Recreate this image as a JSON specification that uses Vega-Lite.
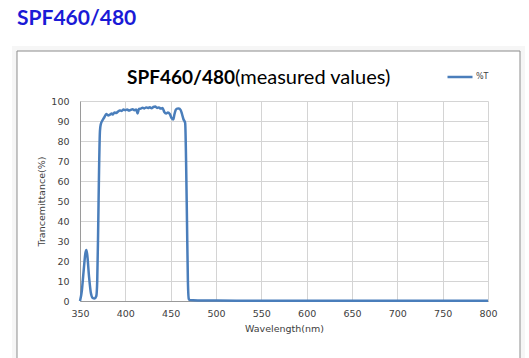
{
  "$schema": "https://vega.github.io/schema/vega-lite/v6.json",
  "width": 408,
  "height": 200,
  "autosize": {"type": "none"},
  "padding": {"left": 80, "top": 101, "right": 41, "bottom": 57},
  "background": "white",
  "title": {
    "text": "SPF460/480",
    "anchor": "start",
    "frame": "group",
    "dx": -63,
    "offset": 17,
    "font": "Lato",
    "fontSize": 21,
    "fontWeight": "bold",
    "color": "#1a1ad6"
  },
  "config": {
    "view": {"stroke": null},
    "axis": {
      "labelFont": "DejaVu Sans",
      "labelFontSize": 9.5,
      "labelColor": "#404040",
      "labelOverlap": false,
      "titleFont": "DejaVu Sans",
      "titleFontSize": 9.5,
      "titleFontWeight": "normal",
      "titleColor": "#404040",
      "gridColor": "#d4d4d4",
      "gridOpacity": 1,
      "domainColor": "#9a9a9a",
      "ticks": false
    }
  },
  "layer": [
    {
      "data": {
        "values": [
          {"wl": 350, "t": 0}, {"wl": 352, "t": 5}, {"wl": 354, "t": 15}, {"wl": 356, "t": 24},
          {"wl": 357, "t": 25.5}, {"wl": 358, "t": 23}, {"wl": 360, "t": 12}, {"wl": 362, "t": 4},
          {"wl": 364, "t": 1.5}, {"wl": 366, "t": 1.2}, {"wl": 368, "t": 2.5}, {"wl": 369, "t": 10},
          {"wl": 370, "t": 35}, {"wl": 371, "t": 65}, {"wl": 372, "t": 85}, {"wl": 373, "t": 88.5},
          {"wl": 375, "t": 90.5}, {"wl": 377, "t": 92}, {"wl": 379, "t": 93.5}, {"wl": 381, "t": 92.8},
          {"wl": 383, "t": 93.2}, {"wl": 385, "t": 93.8}, {"wl": 386, "t": 93.2}, {"wl": 388, "t": 94.2},
          {"wl": 390, "t": 94}, {"wl": 392, "t": 94.8}, {"wl": 394, "t": 95.3}, {"wl": 396, "t": 95},
          {"wl": 398, "t": 95.7}, {"wl": 400, "t": 95.4}, {"wl": 402, "t": 95.8}, {"wl": 404, "t": 95.2},
          {"wl": 406, "t": 95.6}, {"wl": 408, "t": 95.9}, {"wl": 410, "t": 95.4}, {"wl": 412, "t": 95.8},
          {"wl": 413.5, "t": 93.8}, {"wl": 415, "t": 96}, {"wl": 417, "t": 96.2}, {"wl": 419, "t": 96.6},
          {"wl": 421, "t": 96.3}, {"wl": 423, "t": 96.8}, {"wl": 425, "t": 96.5}, {"wl": 427, "t": 96.9},
          {"wl": 429, "t": 96.4}, {"wl": 431, "t": 97}, {"wl": 433, "t": 97.2}, {"wl": 435, "t": 96.5},
          {"wl": 437, "t": 96.8}, {"wl": 439, "t": 96.2}, {"wl": 441, "t": 96.5}, {"wl": 443, "t": 94.5},
          {"wl": 445, "t": 93.8}, {"wl": 447, "t": 94.2}, {"wl": 449, "t": 93.5}, {"wl": 451, "t": 91.5},
          {"wl": 453, "t": 90.8}, {"wl": 454, "t": 93}, {"wl": 455.5, "t": 95.5}, {"wl": 457, "t": 96.2},
          {"wl": 459, "t": 96.3}, {"wl": 461, "t": 95.5}, {"wl": 462.5, "t": 93.5}, {"wl": 464, "t": 91},
          {"wl": 466, "t": 89}, {"wl": 467, "t": 70}, {"wl": 468, "t": 40}, {"wl": 469, "t": 10},
          {"wl": 470, "t": 1}, {"wl": 471, "t": 0.5}, {"wl": 480, "t": 0.3}, {"wl": 500, "t": 0.2},
          {"wl": 600, "t": 0.1}, {"wl": 700, "t": 0.1}, {"wl": 800, "t": 0.1}
        ]
      },
      "mark": {"type": "line", "strokeWidth": 2.5, "interpolate": "monotone"},
      "encoding": {
        "x": {
          "field": "wl", "type": "quantitative",
          "scale": {"domain": [350, 800], "nice": false, "zero": false},
          "axis": {"title": "Wavelength(nm)", "values": [350, 400, 450, 500, 550, 600, 650, 700, 750, 800], "labelOverlap": false, "labelPadding": 7, "titlePadding": 6, "grid": true, "labelFlush": false}
        },
        "y": {
          "field": "t", "type": "quantitative",
          "scale": {"domain": [0, 100], "nice": false},
          "axis": {"title": "Trancemittance(%)", "values": [0, 10, 20, 30, 40, 50, 60, 70, 80, 90, 100], "labelOverlap": false, "labelPadding": 11, "titlePadding": 4, "grid": true}
        },
        "color": {
          "datum": "%T",
          "scale": {"range": ["#4a7ebb"]},
          "legend": {
            "title": null,
            "orient": "none",
            "legendX": 366,
            "legendY": -38,
            "symbolType": "stroke",
            "symbolSize": 625,
            "symbolStrokeWidth": 2.5,
            "labelFont": "DejaVu Sans",
            "labelFontSize": 8,
            "labelColor": "#404040",
            "labelOffset": 2,
            "padding": 0
          }
        }
      }
    },
    {
      "data": {"values": [{"frame": "shadow"}]},
      "mark": {"type": "rect", "fill": null, "stroke": "#000000", "strokeOpacity": 0.035, "strokeWidth": 5, "clip": false},
      "encoding": {
        "x": {"datum": 277.7, "type": "quantitative", "scale": {"domain": [350, 800], "nice": false, "zero": false},
          "axis": {"title": "Wavelength(nm)", "values": [350, 400, 450, 500, 550, 600, 650, 700, 750, 800], "labelOverlap": false, "labelPadding": 7, "titlePadding": 6, "grid": true, "labelFlush": false}},
        "x2": {"datum": 838.1},
        "y": {"datum": 126.25, "type": "quantitative", "scale": {"domain": [0, 100], "nice": false},
          "axis": {"title": "Trancemittance(%)", "values": [0, 10, 20, 30, 40, 50, 60, 70, 80, 90, 100], "labelOverlap": false, "labelPadding": 11, "titlePadding": 4, "grid": true}},
        "y2": {"datum": -36.25}
      }
    },
    {
      "data": {"values": [{"frame": "border"}]},
      "mark": {"type": "rect", "fill": null, "stroke": "#8c8c8c", "strokeWidth": 1, "clip": false},
      "encoding": {
        "x": {"datum": 280.5, "type": "quantitative", "scale": {"domain": [350, 800], "nice": false, "zero": false},
          "axis": {"title": "Wavelength(nm)", "values": [350, 400, 450, 500, 550, 600, 650, 700, 750, 800], "labelOverlap": false, "labelPadding": 7, "titlePadding": 6, "grid": true, "labelFlush": false}},
        "x2": {"datum": 835.3},
        "y": {"datum": 125, "type": "quantitative", "scale": {"domain": [0, 100], "nice": false},
          "axis": {"title": "Trancemittance(%)", "values": [0, 10, 20, 30, 40, 50, 60, 70, 80, 90, 100], "labelOverlap": false, "labelPadding": 11, "titlePadding": 4, "grid": true}},
        "y2": {"datum": -35}
      }
    },
    {
      "data": {"values": [{"label": "SPF460/480"}]},
      "mark": {"type": "text", "align": "right", "baseline": "alphabetic", "font": "Lato", "fontWeight": "bold", "fontSize": 19, "color": "#000000"},
      "encoding": {
        "text": {"field": "label"},
        "x": {"datum": 521, "type": "quantitative", "scale": {"domain": [350, 800], "nice": false, "zero": false},
          "axis": {"title": "Wavelength(nm)", "values": [350, 400, 450, 500, 550, 600, 650, 700, 750, 800], "labelOverlap": false, "labelPadding": 7, "titlePadding": 6, "grid": true, "labelFlush": false}},
        "y": {"datum": 108.5, "type": "quantitative", "scale": {"domain": [0, 100], "nice": false},
          "axis": {"title": "Trancemittance(%)", "values": [0, 10, 20, 30, 40, 50, 60, 70, 80, 90, 100], "labelOverlap": false, "labelPadding": 11, "titlePadding": 4, "grid": true}}
      }
    },
    {
      "data": {"values": [{"label": "(measured values)"}]},
      "mark": {"type": "text", "align": "left", "baseline": "alphabetic", "font": "Lato", "fontWeight": "normal", "fontSize": 20, "color": "#000000"},
      "encoding": {
        "text": {"field": "label"},
        "x": {"datum": 521, "type": "quantitative", "scale": {"domain": [350, 800], "nice": false, "zero": false},
          "axis": {"title": "Wavelength(nm)", "values": [350, 400, 450, 500, 550, 600, 650, 700, 750, 800], "labelOverlap": false, "labelPadding": 7, "titlePadding": 6, "grid": true, "labelFlush": false}},
        "y": {"datum": 108.5, "type": "quantitative", "scale": {"domain": [0, 100], "nice": false},
          "axis": {"title": "Trancemittance(%)", "values": [0, 10, 20, 30, 40, 50, 60, 70, 80, 90, 100], "labelOverlap": false, "labelPadding": 11, "titlePadding": 4, "grid": true}}
      }
    }
  ]
}
